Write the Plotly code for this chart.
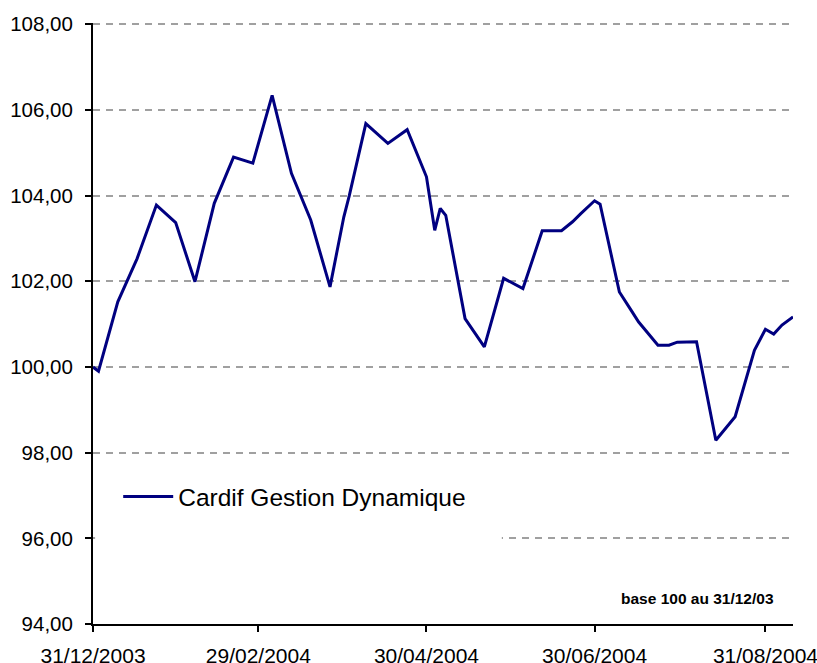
import plotly.graph_objects as go

dates = [
    "2003-12-31", "2004-01-02", "2004-01-09", "2004-01-16", "2004-01-23", "2004-01-30",
    "2004-02-06", "2004-02-13", "2004-02-20", "2004-02-27",
    "2004-03-05", "2004-03-12", "2004-03-19", "2004-03-26", "2004-03-31",
    "2004-04-02", "2004-04-08", "2004-04-16", "2004-04-23", "2004-04-30",
    "2004-05-03", "2004-05-05", "2004-05-07", "2004-05-14", "2004-05-21", "2004-05-28",
    "2004-06-04", "2004-06-11", "2004-06-18", "2004-06-22", "2004-06-25", "2004-06-30",
    "2004-07-02", "2004-07-09", "2004-07-13", "2004-07-16", "2004-07-23", "2004-07-27", "2004-07-30",
    "2004-08-06", "2004-08-13", "2004-08-20", "2004-08-27", "2004-08-31",
    "2004-09-03", "2004-09-06", "2004-09-10",
]
values = [
    100.00, 99.90, 101.52, 102.53, 103.78, 103.37,
    101.99, 103.82, 104.90, 104.76,
    106.34, 104.52, 103.43, 101.87, 103.50,
    104.00, 105.68, 105.22, 105.54, 104.44,
    103.19, 103.70, 103.54, 101.13, 100.47, 102.07,
    101.83, 103.18, 103.18, 103.39, 103.58, 103.88,
    103.80, 101.75, 101.35, 101.05, 100.51, 100.51, 100.58,
    100.59, 98.29, 98.84, 100.39, 100.88,
    100.77, 100.98, 101.17,
]
series_name = "Cardif Gestion Dynamique"

x_tick_vals = ["2003-12-31", "2004-02-29", "2004-04-30", "2004-06-30", "2004-08-31"]
x_tick_text = ["31/12/2003", "29/02/2004", "30/04/2004", "30/06/2004", "31/08/2004"]
y_tick_vals = [94, 96, 98, 100, 102, 104, 106, 108]
y_tick_text = ["94,00", "96,00", "98,00", "100,00", "102,00", "104,00", "106,00", "108,00"]

note_text = "base 100 au 31/12/03"

FONT = "Liberation Sans, Arial, sans-serif"

fig = go.Figure()
fig.add_trace(go.Scatter(
    x=dates, y=values, mode="lines", name=series_name,
    line=dict(color="#000080", width=3),
    showlegend=True,
))

fig.update_layout(
    width=817, height=663,
    margin=dict(l=93, r=24, t=23, b=39, autoexpand=False),
    paper_bgcolor="white", plot_bgcolor="white",
    font=dict(family=FONT, color="black", size=21),
    showlegend=True,
    legend=dict(
        x=0.036, y=0.212, xanchor="left", yanchor="middle",
        bgcolor="white", borderwidth=0,
        font=dict(size=24.5, family=FONT, color="black"),
        itemwidth=50,
    ),
    xaxis=dict(
        type="date",
        range=["2003-12-31", "2004-09-10"],
        tickvals=x_tick_vals, ticktext=x_tick_text,
        showgrid=False, zeroline=False, automargin=False,
        showline=True, linecolor="black", linewidth=2,
        ticks="outside", ticklen=6, tickwidth=2, tickcolor="black",
        tickfont=dict(size=21, family=FONT, color="black"),
        ticklabelstandoff=6, ticklabeloverflow="allow",
    ),
    yaxis=dict(
        range=[94, 108.03],
        tickvals=y_tick_vals, ticktext=y_tick_text,
        showgrid=True, gridcolor="#a0a0a0", gridwidth=1.5, griddash="7px,6px",
        zeroline=False, automargin=False,
        showline=True, linecolor="black", linewidth=2,
        ticks="outside", ticklen=6, tickwidth=2, tickcolor="black",
        tickfont=dict(size=20.5, family=FONT, color="black"),
        ticklabelstandoff=8, ticklabeloverflow="allow",
    ),
    shapes=[dict(
        type="rect", xref="paper", yref="paper",
        x0=0.003, x1=0.584, y0=0.13, y1=0.26,
        fillcolor="white", line=dict(width=0), layer="above",
    )],
    annotations=[dict(
        text="<b>" + note_text + "</b>", xref="paper", yref="paper",
        x=0.863, y=0.043, xanchor="center", yanchor="middle",
        showarrow=False, font=dict(size=15.5, family=FONT, color="black"),
    )],
)

fig.write_html(
    "out.html",
    config={"displayModeBar": False},
    post_script="document.body.style.margin='0';document.body.style.overflow='hidden';",
)
